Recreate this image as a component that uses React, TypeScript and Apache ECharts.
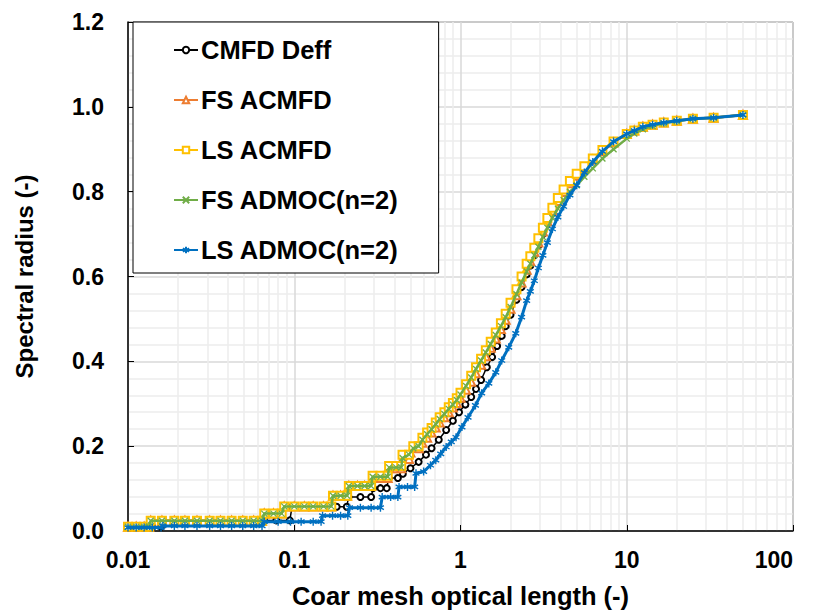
import React, { useEffect, useRef } from 'react';
import * as echarts from 'echarts';

const FONT = '"Liberation Sans", Arial, sans-serif';

const X_TICKS = [0.01, 0.1, 1, 10, 100];
const Y_MIN = 0;
const Y_MAX = 1.2;
const Y_STEP = 0.2;

const SERIES_NAMES = ['CMFD Deff', 'FS ACMFD', 'LS ACMFD', 'FS ADMOC(n=2)', 'LS ADMOC(n=2)'];
const SERIES_COLORS = ['#000000', '#ED7D31', '#FFC000', '#70AD47', '#0070C0'];

const cmfdDeff: [number, number][] = [
  [0.01, 0.01], [0.0112, 0.01], [0.0125, 0.01], [0.014, 0.01], [0.0158, 0.01],
  [0.0162, 0.025], [0.019, 0.025], [0.022, 0.025], [0.026, 0.025], [0.031, 0.025], [0.036, 0.025], [0.042, 0.025], [0.049, 0.025], [0.057, 0.025], [0.066, 0.025], [0.078, 0.025], [0.094, 0.025],
  [0.097, 0.057], [0.12, 0.057], [0.15, 0.057], [0.18, 0.057], [0.207, 0.057],
  [0.212, 0.08], [0.25, 0.08], [0.29, 0.08],
  [0.298, 0.101], [0.33, 0.101], [0.36, 0.101],
  [0.37, 0.125], [0.42, 0.125], [0.45, 0.135], [0.5, 0.148], [0.56, 0.163], [0.62, 0.18], [0.67, 0.195], [0.74, 0.215], [0.82, 0.238], [0.9, 0.26], [0.98, 0.28], [1.07, 0.298], [1.16, 0.316], [1.24, 0.335], [1.33, 0.356], [1.44, 0.386], [1.55, 0.41], [1.66, 0.436], [1.77, 0.46], [1.87, 0.483], [2.0, 0.51], [2.17, 0.545], [2.33, 0.575], [2.5, 0.605], [2.63, 0.626], [2.78, 0.65], [2.94, 0.673], [3.13, 0.7], [3.33, 0.724], [3.57, 0.75], [3.85, 0.775], [4.17, 0.798], [4.55, 0.818], [5.0, 0.836], [5.56, 0.855], [6.25, 0.874], [7.14, 0.895], [8.33, 0.916],
  [10, 0.936], [11.1, 0.944], [12.5, 0.953], [14.3, 0.958], [16.7, 0.963], [20, 0.967], [25, 0.972], [33.3, 0.974], [50, 0.981],
];

const fsAcmfd: [number, number][] = [
  [0.01, 0.01], [0.0112, 0.01], [0.0125, 0.01], [0.0134, 0.01],
  [0.0137, 0.024], [0.016, 0.024], [0.019, 0.024], [0.022, 0.024], [0.026, 0.024], [0.031, 0.024], [0.036, 0.024], [0.042, 0.024], [0.049, 0.024], [0.057, 0.024], [0.064, 0.024],
  [0.066, 0.041], [0.075, 0.041], [0.084, 0.041],
  [0.087, 0.058], [0.1, 0.058], [0.115, 0.058], [0.13, 0.058], [0.15, 0.058], [0.167, 0.058],
  [0.171, 0.083], [0.19, 0.083], [0.208, 0.083],
  [0.213, 0.106], [0.24, 0.106], [0.265, 0.106], [0.29, 0.106],
  [0.296, 0.125], [0.33, 0.125], [0.365, 0.125],
  [0.372, 0.148], [0.41, 0.148], [0.44, 0.148],
  [0.448, 0.17], [0.49, 0.17], [0.5, 0.185], [0.56, 0.195], [0.59, 0.208], [0.63, 0.22], [0.67, 0.232], [0.71, 0.244], [0.75, 0.256], [0.8, 0.268], [0.85, 0.28], [0.9, 0.291], [0.95, 0.302], [1.0, 0.314], [1.08, 0.333], [1.16, 0.352], [1.24, 0.372], [1.33, 0.392], [1.42, 0.412], [1.52, 0.432], [1.63, 0.454], [1.75, 0.476], [1.87, 0.498], [2.0, 0.524], [2.17, 0.556], [2.33, 0.586], [2.5, 0.616], [2.63, 0.636], [2.78, 0.658], [2.94, 0.68], [3.13, 0.706], [3.33, 0.73], [3.57, 0.755], [3.85, 0.778], [4.17, 0.8], [4.55, 0.82], [5.0, 0.838], [5.56, 0.856], [6.25, 0.875], [7.14, 0.895], [8.33, 0.916],
  [10, 0.936], [11.1, 0.944], [12.5, 0.953], [14.3, 0.958], [16.7, 0.963], [20, 0.967], [25, 0.972], [33.3, 0.974], [50, 0.981],
];

const lsAcmfd: [number, number][] = [
  [0.01, 0.01], [0.0112, 0.01], [0.0125, 0.01], [0.0134, 0.01],
  [0.0137, 0.024], [0.016, 0.024], [0.019, 0.024], [0.022, 0.024], [0.026, 0.024], [0.031, 0.024], [0.036, 0.024], [0.042, 0.024], [0.049, 0.024], [0.057, 0.024], [0.064, 0.024],
  [0.066, 0.041], [0.075, 0.041], [0.084, 0.041],
  [0.087, 0.058], [0.1, 0.058], [0.115, 0.058], [0.13, 0.058], [0.15, 0.058], [0.167, 0.058],
  [0.171, 0.083], [0.19, 0.083], [0.208, 0.083],
  [0.213, 0.106], [0.24, 0.106], [0.265, 0.106], [0.29, 0.106],
  [0.296, 0.13], [0.33, 0.13], [0.365, 0.13],
  [0.372, 0.153], [0.41, 0.153], [0.44, 0.153],
  [0.448, 0.18], [0.49, 0.18], [0.52, 0.2], [0.56, 0.2], [0.59, 0.22], [0.63, 0.232], [0.67, 0.243], [0.71, 0.256], [0.75, 0.268], [0.8, 0.28], [0.85, 0.292], [0.9, 0.302], [0.95, 0.313], [1.0, 0.326], [1.08, 0.346], [1.16, 0.366], [1.24, 0.386], [1.33, 0.406], [1.42, 0.426], [1.52, 0.446], [1.63, 0.468], [1.75, 0.49], [1.87, 0.512], [2.0, 0.538], [2.17, 0.57], [2.33, 0.6], [2.5, 0.63], [2.63, 0.648], [2.78, 0.668], [2.94, 0.69], [3.13, 0.715], [3.33, 0.738], [3.57, 0.762], [3.85, 0.785], [4.17, 0.805], [4.55, 0.825], [5.0, 0.842], [5.56, 0.86], [6.25, 0.878], [7.14, 0.898], [8.33, 0.918],
  [10, 0.936], [11.1, 0.944], [12.5, 0.953], [14.3, 0.958], [16.7, 0.963], [20, 0.967], [25, 0.972], [33.3, 0.974], [50, 0.981],
];

const fsAdmoc: [number, number][] = [
  [0.01, 0.01], [0.0112, 0.01], [0.0125, 0.01], [0.0134, 0.01],
  [0.0137, 0.024], [0.016, 0.024], [0.019, 0.024], [0.022, 0.024], [0.026, 0.024], [0.031, 0.024], [0.036, 0.024], [0.042, 0.024], [0.049, 0.024], [0.057, 0.024], [0.064, 0.024],
  [0.066, 0.041], [0.075, 0.041], [0.084, 0.041],
  [0.087, 0.058], [0.1, 0.058], [0.115, 0.058], [0.13, 0.058], [0.15, 0.058], [0.167, 0.058],
  [0.171, 0.083], [0.19, 0.083], [0.208, 0.083],
  [0.213, 0.106], [0.24, 0.106], [0.265, 0.106], [0.29, 0.106],
  [0.296, 0.128], [0.33, 0.128], [0.365, 0.128],
  [0.372, 0.15], [0.41, 0.15], [0.44, 0.15],
  [0.448, 0.172], [0.49, 0.18], [0.52, 0.195], [0.56, 0.2], [0.59, 0.215], [0.63, 0.228], [0.67, 0.24], [0.71, 0.252], [0.75, 0.264], [0.8, 0.276], [0.85, 0.288], [0.9, 0.298], [0.95, 0.309], [1.0, 0.322], [1.08, 0.342], [1.16, 0.362], [1.24, 0.382], [1.33, 0.402], [1.42, 0.421], [1.52, 0.441], [1.63, 0.462], [1.75, 0.483], [1.87, 0.504], [2.0, 0.528], [2.17, 0.558], [2.33, 0.586], [2.5, 0.612], [2.63, 0.63], [2.78, 0.65], [2.94, 0.67], [3.13, 0.693], [3.33, 0.715], [3.57, 0.738], [3.85, 0.76], [4.17, 0.78], [4.55, 0.8], [5.0, 0.815], [5.56, 0.835], [6.25, 0.855], [7.14, 0.878], [8.33, 0.9],
  [10, 0.925], [11.1, 0.937], [12.5, 0.947], [14.3, 0.955], [16.7, 0.961], [20, 0.966], [25, 0.972], [33.3, 0.974], [50, 0.981],
];

const lsAdmoc: [number, number][] = [
  [0.01, 0.008], [0.0112, 0.008], [0.0125, 0.008], [0.014, 0.008], [0.0158, 0.008],
  [0.0162, 0.012], [0.019, 0.012], [0.022, 0.012], [0.026, 0.012], [0.031, 0.012], [0.036, 0.012], [0.042, 0.012], [0.049, 0.012], [0.057, 0.012], [0.064, 0.012],
  [0.066, 0.022], [0.08, 0.022], [0.095, 0.022], [0.11, 0.022], [0.13, 0.022], [0.145, 0.022],
  [0.148, 0.036], [0.17, 0.036], [0.19, 0.036], [0.21, 0.036],
  [0.215, 0.055], [0.25, 0.055], [0.29, 0.055], [0.33, 0.055],
  [0.338, 0.08], [0.38, 0.08], [0.42, 0.08],
  [0.427, 0.104], [0.48, 0.104], [0.53, 0.104],
  [0.54, 0.136], [0.6, 0.14], [0.66, 0.155], [0.71, 0.167], [0.76, 0.182], [0.82, 0.198], [0.88, 0.21], [0.94, 0.221], [1.02, 0.245], [1.11, 0.268], [1.23, 0.296], [1.34, 0.325], [1.48, 0.348], [1.63, 0.374], [1.77, 0.402], [1.95, 0.433], [2.15, 0.466], [2.33, 0.504], [2.5, 0.543], [2.63, 0.565], [2.78, 0.59], [2.94, 0.62], [3.13, 0.65], [3.33, 0.68], [3.57, 0.712], [3.85, 0.74], [4.17, 0.765], [4.55, 0.792], [5.0, 0.815], [5.56, 0.845], [6.25, 0.87], [7.14, 0.895], [8.33, 0.918],
  [10, 0.936], [11.1, 0.944], [12.5, 0.953], [14.3, 0.958], [16.7, 0.963], [20, 0.967], [25, 0.972], [33.3, 0.974], [50, 0.981],
];

const SERIES_DATA = [cmfdDeff, fsAcmfd, lsAcmfd, fsAdmoc, lsAdmoc];

const CROSS = 'path://M0,0L10,10M10,0L0,10';
const STAR = 'path://M5,0L5,10M0.7,2.5L9.3,7.5M0.7,7.5L9.3,2.5';
const SYMBOLS = ['emptyCircle', 'emptyTriangle', 'emptyRect', CROSS, STAR];
const SYMBOL_SIZES = [6, 8, 8, 6, 8];
const BORDER_WIDTHS = [1.8, 1.3, 1.3, 1.3, 1.4];
const LINE_WIDTHS = [1.5, 2.5, 2.5, 2.5, 3];

export default function App() {
  const ref = useRef<HTMLDivElement>(null);

  useEffect(() => {
    document.body.style.margin = '0';
    if (!ref.current) return;
    const chart = echarts.init(ref.current, undefined, { renderer: 'svg' });

    const series = SERIES_NAMES.map((name, i) => ({
      name,
      type: 'line',
      data: SERIES_DATA[i],
      symbol: SYMBOLS[i],
      symbolSize: SYMBOL_SIZES[i],
      symbolKeepAspect: true,
      showAllSymbol: true,
      lineStyle: { color: SERIES_COLORS[i], width: LINE_WIDTHS[i] },
      itemStyle: { color: SERIES_COLORS[i], borderColor: SERIES_COLORS[i], borderWidth: BORDER_WIDTHS[i] },
      z: 2 + i,
    }));

    chart.setOption({
      animation: false,
      backgroundColor: '#ffffff',
      textStyle: { fontFamily: FONT },
      grid: {
        left: 128,
        right: 25,
        top: 22,
        bottom: 83,
        containLabel: false,
        show: true,
        borderColor: '#404040',
        borderWidth: 1,
      },
      legend: {
        orient: 'vertical',
        left: 133,
        top: 22,
        padding: [15, 40, 10, 40],
        itemGap: 24,
        itemWidth: 24,
        itemHeight: 8,
        backgroundColor: '#ffffff',
        borderColor: '#000000',
        borderWidth: 1,
        borderRadius: 0,
        data: SERIES_NAMES,
        textStyle: {
          fontFamily: FONT,
          fontSize: 25.5,
          fontWeight: 'bold',
          color: '#000000',
          lineHeight: 26,
          padding: [0, 0, 0, -2],
        },
      },
      xAxis: {
        type: 'log',
        logBase: 10,
        min: X_TICKS[0],
        max: X_TICKS[X_TICKS.length - 1],
        name: 'Coar mesh optical length (-)',
        nameLocation: 'middle',
        nameGap: 52,
        nameTextStyle: { fontFamily: FONT, fontSize: 25.5, fontWeight: 'bold', color: '#000' },
        axisLine: { show: true, onZero: false, lineStyle: { color: '#000', width: 1.5 } },
        axisTick: { show: true, inside: true, length: 6, lineStyle: { color: '#000' } },
        minorTick: { show: false, splitNumber: 9 },
        axisLabel: {
          fontFamily: FONT,
          fontSize: 23,
          fontWeight: 'bold',
          color: '#000',
          margin: 17,
          alignMaxLabel: 'right',
          formatter: (v: number) => {
            const t = X_TICKS.find((t) => Math.abs(Math.log10(t) - Math.log10(v)) < 1e-6);
            return t !== undefined ? String(t) : '';
          },
        },
        splitLine: { show: true, lineStyle: { color: '#d9d9d9', width: 1.5 } },
        minorSplitLine: { show: true, lineStyle: { color: '#ededed', width: 1.5 } },
      },
      yAxis: {
        type: 'value',
        min: Y_MIN,
        max: Y_MAX,
        interval: Y_STEP,
        name: 'Spectral radius (-)',
        nameLocation: 'middle',
        nameGap: 92,
        nameTextStyle: { fontFamily: FONT, fontSize: 24, fontWeight: 'bold', color: '#000' },
        axisLine: { show: true, lineStyle: { color: '#000', width: 1.5 } },
        axisTick: { show: true, inside: true, length: 6, lineStyle: { color: '#000' } },
        minorTick: { show: false, splitNumber: 5 },
        axisLabel: {
          fontFamily: FONT,
          fontSize: 23,
          fontWeight: 'bold',
          color: '#000',
          margin: 24,
          formatter: (v: number) => v.toFixed(1),
        },
        splitLine: { show: true, lineStyle: { color: '#d9d9d9', width: 1.5 } },
        minorSplitLine: { show: true, lineStyle: { color: '#ededed', width: 1.5 } },
      },
      series,
    });

    return () => chart.dispose();
  }, []);

  return <div ref={ref} style={{ width: 818, height: 614 }} />;
}
